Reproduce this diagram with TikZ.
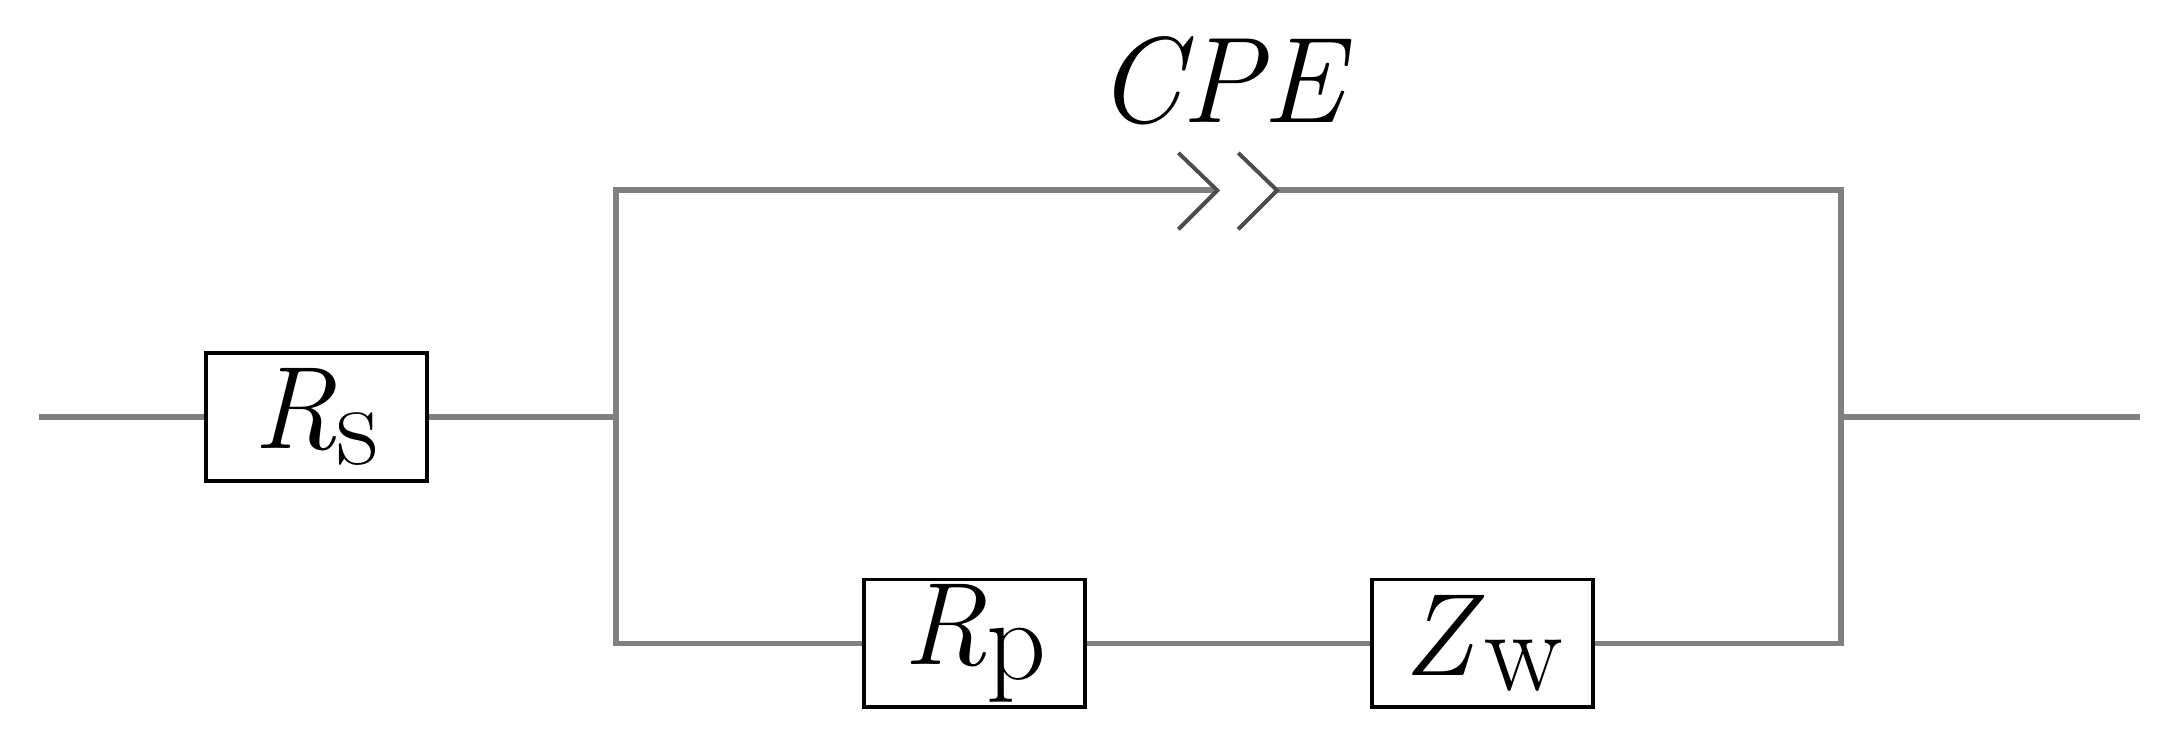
\documentclass[tikz,border=0pt]{standalone}
\begin{document}
\begin{tikzpicture}[x=0.01cm,y=-0.01cm,
  wire/.style={draw=black!50,line width=1.2pt},
  elem/.style={draw=black,line width=0.8pt,fill=white,minimum width=1.59cm,minimum height=0.92cm,inner sep=0pt,font=\fontsize{24}{26}\selectfont}]
\useasboundingbox (0,0) rectangle (1568,535);
\node[elem] (rs) at (227.5,300) {\textit{R}\raisebox{-0.3ex}{s}};
\node[elem] (rp) at (701.5,463) {\textit{R}\raisebox{-0.3ex}{p}};
\node[elem] (zw) at (1067,463) {\textit{Z}\raisebox{-0.3ex}{w}};
\coordinate (in) at (28,300);
\coordinate (out) at (1540,300);
\coordinate (lt) at (443,137);
\coordinate (lm) at (443,300);
\coordinate (lb) at (443,463);
\coordinate (rt) at (1325,137);
\coordinate (rm) at (1325,300);
\coordinate (rb) at (1325,463);
\coordinate (c1) at (876,137);
\coordinate (c2) at (919,137);
\draw[wire] (in) -- (rs.west);
\draw[wire] (rs.east) -- (lm);
\draw[wire] (c1) -- (lt) -- (lb) -- (rp.west);
\draw[wire] (rp.east) -- (zw.west);
\draw[wire] (zw.east) -- (rb) -- (rt) -- (c2);
\draw[wire] (rm) -- (out);
\draw[black!70,line width=0.8pt] (848,110) -- (c1) -- (848,165);
\draw[black!70,line width=0.8pt] (891,110) -- (c2) -- (891,165);
\node[font=\fontsize{25}{27}\selectfont\itshape] (cpe) at (878,58) {CPE};
\end{tikzpicture}
\end{document}
